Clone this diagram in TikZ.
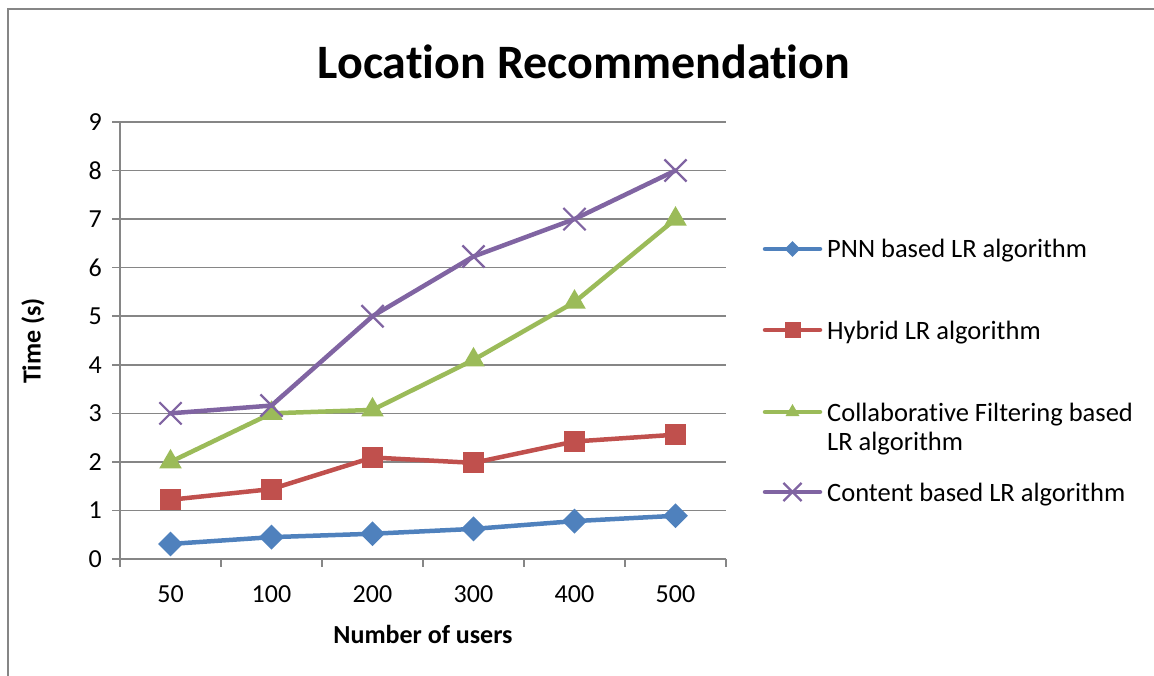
\documentclass[tikz,border=0pt]{standalone}
\usepackage{fontspec}
\setmainfont{Carlito}[Ligatures={NoCommon}]
\usepackage{tikz}
\usetikzlibrary{positioning,calc}
\usetikzlibrary{shapes.geometric,shapes.misc}
\definecolor{pnnblue}{RGB}{79,129,189}
\definecolor{hybred}{RGB}{192,80,77}
\definecolor{cfgreen}{RGB}{155,187,89}
\definecolor{cbpurple}{RGB}{128,100,162}
\definecolor{gridgray}{RGB}{134,134,134}
\tikzstyle{frame} = [draw=gridgray, line width=2.5pt]
\tikzstyle{grid} = [draw=gridgray, line width=1.5pt]
\tikzstyle{axis} = [draw=gridgray, line width=1.5pt]
\tikzstyle{title} = [font=\fontsize{48}{54}\selectfont\bfseries, inner sep=0pt]
\tikzstyle{ticklab} = [font=\fontsize{26}{31}\selectfont, inner sep=0pt]
\tikzstyle{axlab} = [font=\fontsize{26}{31}\selectfont\bfseries, inner sep=0pt]
\tikzstyle{legtext} = [font=\fontsize{26.5}{31}\selectfont, inner sep=0pt, anchor=base west]
\tikzstyle{series} = [line width=4.5pt, line join=round, line cap=round]
\tikzstyle{diam} = [diamond, aspect=1, fill=pnnblue, minimum size=25pt, inner sep=0pt]
\tikzstyle{sqr} = [rectangle, fill=hybred, minimum size=21pt, inner sep=0pt]
\tikzstyle{tri} = [regular polygon, regular polygon sides=3, fill=cfgreen, minimum size=26pt, inner sep=0pt]
\tikzstyle{crs} = [cross out, draw=cbpurple, line width=2.2pt, minimum size=20pt, inner sep=0pt]
\tikzstyle{small} = [minimum size=16pt]

\begin{document}
\begin{tikzpicture}[x=1pt, y=-1pt]
\useasboundingbox (0,0) rectangle (1154,676);
\draw[frame] (8,676) -- (8,9) -- (1154,9);
\node[title] (title) at (584,62) {Location Recommendation};

% gridlines and value axis
\foreach \v in {0,...,9}{
    \draw[grid] (112,559-48.56*\v) -- (726,559-48.56*\v);
    \node[ticklab, anchor=east] (ylab\v) at (102,559-48.56*\v) {\v};
}
\draw[axis] (120,122) -- (120,559);
\foreach \i in {0,...,6}
    \draw[axis] (120+101*\i,559) -- (120+101*\i,567);
\foreach \n [count=\i from 0] in {50,100,200,300,400,500}
    \node[ticklab] (xlab\i) at (170.5+101*\i,594) {\n};
\node[axlab] (xtitle) at (423,634) {Number of users};
\node[axlab, rotate=90] (ytitle) at (33,341) {Time (s)};

% data points
\foreach \v [count=\i from 0] in {0.31,0.45,0.52,0.62,0.78,0.89}
    \coordinate (pnn\i) at (170.5+101*\i,559-48.56*\v);
\foreach \v [count=\i from 0] in {1.22,1.44,2.09,1.98,2.42,2.56}
    \coordinate (hyb\i) at (170.5+101*\i,559-48.56*\v);
\foreach \v [count=\i from 0] in {2,3,3.07,4.1,5.29,7}
    \coordinate (cf\i) at (170.5+101*\i,559-48.56*\v);
\foreach \v [count=\i from 0] in {3,3.16,5,6.23,7,8}
    \coordinate (cb\i) at (170.5+101*\i,559-48.56*\v);

% series
\draw[series, pnnblue] (pnn0) -- (pnn1) -- (pnn2) -- (pnn3) -- (pnn4) -- (pnn5);
\foreach \i in {0,...,5} \node[diam] (pnnm\i) at (pnn\i) {};
\draw[series, hybred] (hyb0) -- (hyb1) -- (hyb2) -- (hyb3) -- (hyb4) -- (hyb5);
\foreach \i in {0,...,5} \node[sqr] (hybm\i) at (hyb\i) {};
\draw[series, cfgreen] (cf0) -- (cf1) -- (cf2) -- (cf3) -- (cf4) -- (cf5);
\foreach \i in {0,...,5} \node[tri] (cfm\i) at (cf\i) {};
\draw[series, cbpurple] (cb0) -- (cb1) -- (cb2) -- (cb3) -- (cb4) -- (cb5);
\foreach \i in {0,...,5} \node[crs] (cbm\i) at (cb\i) {};

% legend
\coordinate (la1) at (765,249); \coordinate (lb1) at (820,249);
\coordinate (la2) at (765,330); \coordinate (lb2) at (820,330);
\coordinate (la3) at (765,412); \coordinate (lb3) at (820,412);
\coordinate (la4) at (765,492); \coordinate (lb4) at (820,492);
\draw[series, pnnblue] (la1) -- (lb1);
\node[diam, small] (legm1) at ($(la1)!0.5!(lb1)$) {};
\node[legtext] (leg1) at (827,258) {PNN based LR algorithm};
\draw[series, hybred] (la2) -- (lb2);
\node[sqr, small] (legm2) at ($(la2)!0.5!(lb2)$) {};
\node[legtext] (leg2) at (827,339) {Hybrid LR algorithm};
\draw[series, cfgreen] (la3) -- (lb3);
\node[tri, small] (legm3) at ($(la3)!0.5!(lb3)$) {};
\node[legtext] (leg3) at (827,421) {Collaborative Filtering based};
\node[legtext] (leg3b) at (827,450) {LR algorithm};
\draw[series, cbpurple] (la4) -- (lb4);
\node[crs, small] (legm4) at ($(la4)!0.5!(lb4)$) {};
\node[legtext] (leg4) at (827,501) {Content based LR algorithm};
\end{tikzpicture}
\end{document}
